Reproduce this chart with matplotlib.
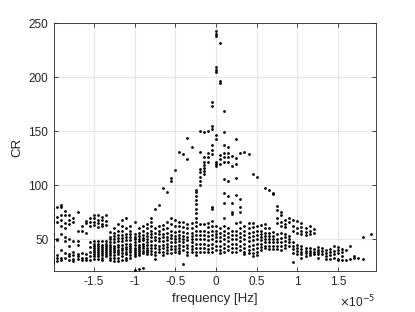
import matplotlib
matplotlib.use("Agg")
import matplotlib.pyplot as plt
import numpy as np

plt.rcParams['font.family'] = ['Liberation Sans', 'DejaVu Sans']

# frequency bins (units of 1e-5 Hz) and the CR values observed in each bin
freq_step = 0.05
bin_index = list(range(-40, 39))
cr_per_bin = [
    [78, 72, 68, 66, 55, 50, 43, 38, 33, 30, 28],
    [80, 71, 66, 50, 49, 35, 33, 30],
    [82, 80, 72, 68, 62, 55, 40, 33, 31],
    [76, 72, 65, 60, 52, 48, 37, 33],
    [72, 68, 64, 50, 44, 36, 34, 31],
    [70, 66, 48, 38, 35, 32, 30],
    [75, 58, 48, 45, 36, 34, 32],
    [62, 58, 37, 33, 31],
    [67, 65, 56, 36, 33, 31],
    [70, 66, 62, 47, 43, 38, 34, 31],
    [72, 70, 66, 63, 48, 46, 44, 42, 40, 38, 36, 34, 32],
    [72, 68, 65, 61, 48, 46, 44, 42, 40, 38, 36, 34, 32],
    [71, 68, 64, 62, 48, 45, 43, 41, 39, 37, 35, 33, 31],
    [72, 67, 63, 48, 46, 44, 42, 40, 38, 36, 34],
    [57, 52, 50, 47, 45, 43, 41, 39, 37, 35, 33, 31],
    [60, 56, 53, 50, 47, 44, 42, 40, 38, 35, 33, 30],
    [64, 58, 54, 51, 48, 45, 43, 40, 38, 36, 33, 30],
    [68, 62, 58, 54, 51, 48, 45, 42, 40, 37, 34, 31],
    [70, 60, 55, 52, 49, 46, 43, 41, 38, 36, 33, 31],
    [62, 58, 55, 52, 49, 46, 44, 42, 40, 38, 35, 33],
    [66, 55, 52, 50, 47, 45, 42, 40, 38, 36, 34, 21],
    [60, 56, 53, 50, 48, 45, 43, 41, 39, 37, 35, 22],
    [62, 58, 54, 51, 49, 46, 44, 42, 39, 37, 23],
    [64, 60, 56, 53, 50, 47, 45, 42, 40, 38, 36],
    [70, 66, 62, 58, 55, 52, 48, 45, 42, 39, 36],
    [78, 60, 56, 52, 49, 45, 42, 38, 35, 32],
    [82, 62, 58, 55, 51, 48, 44, 41, 38],
    [97, 63, 59, 55, 52, 48, 45, 42, 38, 35],
    [94, 66, 60, 56, 52, 49, 46, 43, 40, 37],
    [107, 104, 70, 64, 58, 54, 51, 47, 44, 41, 37],
    [114, 68, 62, 57, 53, 50, 47, 44, 41, 38],
    [131, 66, 62, 58, 54, 51, 48, 45, 42, 39, 37],
    [129, 66, 61, 57, 53, 50, 47, 44, 40, 27],
    [144, 124, 64, 60, 56, 52, 49, 45, 42, 38, 35],
    [135, 65, 60, 56, 53, 50, 47, 44, 41, 38],
    [96, 94, 90, 86, 83, 78, 74, 70, 66, 62, 58, 54, 50, 46, 42, 38, 35],
    [150, 131, 115, 112, 108, 104, 100, 64, 58, 54, 50, 46, 42, 38],
    [149, 126, 122, 119, 116, 113, 110, 64, 58, 54, 50, 46, 42, 38],
    [150, 130, 126, 122, 65, 61, 57, 53, 49, 45, 41, 38],
    [177, 173, 155, 152, 137, 133, 129, 80, 78, 67, 62, 58, 54, 50, 46, 42, 38],
    [243, 240, 238, 210, 207, 205, 147, 143, 122, 120, 118, 62, 58, 55, 52, 48, 44, 40],
    [232, 197, 195, 128, 124, 120, 60, 56, 52, 48, 44, 40, 37],
    [169, 149, 137, 130, 126, 122, 106, 93, 84, 70, 62, 58, 54, 50, 46, 42, 38],
    [135, 130, 126, 122, 104, 90, 60, 56, 52, 48, 44, 40],
    [127, 118, 84, 75, 73, 58, 54, 50, 46, 42, 38],
    [143, 125, 120, 107, 91, 65, 58, 54, 50, 46, 42, 38],
    [130, 87, 80, 75, 66, 60, 56, 52, 48, 44, 40],
    [131, 62, 58, 54, 50, 46, 42, 38, 36],
    [129, 65, 60, 56, 52, 48, 44, 40, 37],
    [110, 65, 61, 57, 53, 49, 45, 41, 37, 34],
    [108, 62, 58, 54, 50, 46, 42, 38, 35],
    [63, 58, 55, 52, 49, 46, 43, 40],
    [97, 64, 60, 56, 53, 50, 47, 44, 42],
    [96, 60, 56, 53, 50, 47, 44, 41],
    [93, 92, 57, 53, 50, 47, 44, 41],
    [81, 77, 70, 65, 55, 50, 47, 44, 41],
    [75, 72, 66, 62, 56, 51, 47, 44, 40],
    [68, 64, 61, 55, 52, 48, 45, 42],
    [70, 66, 53, 50, 47, 44],
    [68, 62, 58, 47, 44, 41, 37, 29],
    [67, 60, 56, 45, 42, 39, 36],
    [65, 61, 58, 55, 44, 41, 38, 36, 33],
    [60, 57, 54, 42, 39, 37, 34],
    [62, 58, 55, 42, 39, 37, 35],
    [59, 56, 41, 38, 36],
    [43, 40, 38, 36, 33],
    [42, 39, 36],
    [40, 37, 34, 32],
    [41, 38, 35, 32],
    [44, 39, 36, 33],
    [43, 40, 37, 32, 31],
    [41, 38, 34, 31],
    [40, 31],
    [44, 32],
    [34, 33],
    [33],
    [52, 32],
    [],
    [55],
]

xs, ys = [], []
for k, vals in zip(bin_index, cr_per_bin):
    for v in vals:
        xs.append(k * freq_step)
        ys.append(v)

fig = plt.figure(figsize=(4.15, 3.12), dpi=100)
ax = fig.add_axes([0.130, 0.132, 0.775, 0.793])
ax.scatter(xs, ys, s=4, c='black', marker='o', linewidths=0, zorder=3)

ax.set_xlim(-1.99, 1.96)
ax.set_ylim(20.7, 250)
ax.set_xticks([-1.5, -1, -0.5, 0, 0.5, 1, 1.5])
ax.set_xticklabels(['-1.5', '-1', '-0.5', '0', '0.5', '1', '1.5'])
ax.set_yticks([50, 100, 150, 200, 250])
ax.grid(True, color='#e6e6e6', linewidth=0.8, zorder=0)
ax.set_axisbelow(True)
for sp in ax.spines.values():
    sp.set_color('#262626')
    sp.set_linewidth(0.6)
ax.tick_params(direction='in', length=3, width=0.6, colors='#262626',
               labelsize=8.5, top=True, right=True, pad=4)
ax.set_xlabel('frequency [Hz]', fontsize=9.5, color='#262626', labelpad=3)
ax.set_ylabel('CR', fontsize=9.5, color='#262626', labelpad=4)
ax.text(1.0, -0.128, r'$\times$10$^{-5}$', transform=ax.transAxes,
        ha='right', va='center', fontsize=8.5, color='#262626')

fig.savefig('out.png', dpi=100)
